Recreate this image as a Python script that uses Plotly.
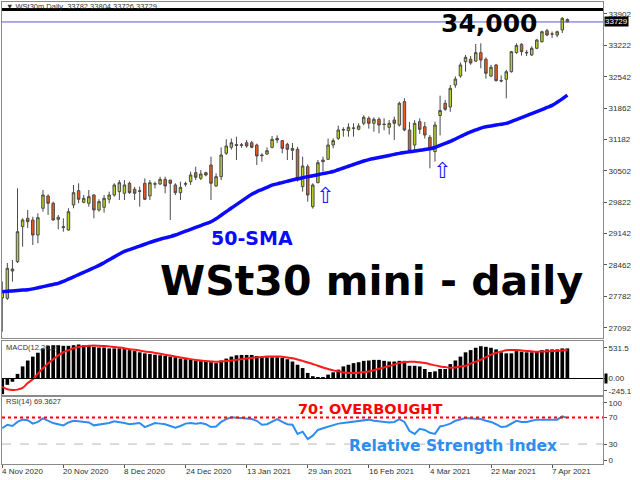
import plotly.graph_objects as go

# ---------------- data ----------------
OPEN = [27742, 27735, 28371, 28529, 29289, 29470, 29434, 29108, 29688, 29954,
        29796, 29449, 29290, 29217, 29759, 30069, 29818, 29796, 29976, 29651,
        29709, 29883, 29976, 30048, 30013, 30230, 30100, 30070, 30230, 29954,
        30210, 30215, 30315, 30300, 30193, 30026, 30210, 30265, 30460, 30338,
        30460, 30627, 30171, 30373, 30881, 31011, 31070, 31065, 31110, 31110,
        31060, 30845, 30865, 31010, 31205, 31155, 31075, 30988, 30967, 30156,
        30590, 29723, 30243, 30735, 30750, 31060, 31205, 31395, 31371, 31430,
        31401, 31531, 31640, 31531, 31618, 31515, 31444, 31603, 31494, 32000,
        31386, 31060, 31567, 31458, 31227, 30916, 31700, 31965, 31885, 32362,
        32557, 32868, 32920, 32880, 33063, 32920, 32557, 32796, 32460, 32486,
        32650, 33063, 33245, 33070, 33013, 33158, 33301, 33540, 33470, 33446,
        33555, 33782]
HIGH = [28100, 28501, 28566, 30121, 29470, 29651, 29505, 29579, 30085, 29990,
        29831, 29542, 29470, 29688, 30193, 30230, 29976, 30085, 29990, 29883,
        29976, 30048, 30230, 30300, 30300, 30265, 30150, 30157, 30338, 30300,
        30265, 30372, 30372, 30300, 30230, 30265, 30265, 30482, 30590, 30518,
        30482, 30807, 30446, 31010, 31184, 31200, 31240, 31104, 31170, 31150,
        31090, 30880, 31010, 31255, 31270, 31170, 31110, 31104, 31020, 30807,
        30640, 30230, 30735, 30807, 31200, 31205, 31480, 31445, 31531, 31531,
        31531, 31705, 31683, 31662, 31660, 31640, 31600, 31675, 32000, 32073,
        31560, 31600, 31640, 31560, 31277, 31567, 32130, 32040, 32362, 32550,
        32850, 33013, 32990, 33251, 33266, 32960, 32800, 32820, 32570, 32690,
        33100, 33266, 33266, 33120, 33200, 33360, 33540, 33580, 33520, 33540,
        33830, 33804]
LOW = [27011, 27700, 28095, 28500, 28855, 29260, 28892, 28929, 29614, 29542,
       29420, 29232, 29180, 29200, 29688, 29796, 29796, 29722, 29470, 29614,
       29592, 29796, 29940, 29866, 29866, 30000, 29866, 29723, 29868, 29866,
       30120, 30193, 30013, 29434, 29976, 29868, 30157, 30193, 30300, 30300,
       30380, 29868, 30157, 30300, 30844, 30960, 30735, 31000, 31000, 30990,
       30627, 30700, 30844, 30988, 31100, 30880, 30735, 30735, 30265, 30048,
       29831, 29680, 30230, 30482, 30735, 30988, 31170, 31240, 31240, 31240,
       31380, 31488, 31415, 31350, 31313, 31380, 31290, 31170, 31460, 31360,
       30900, 30950, 31300, 31200, 30555, 30699, 31270, 31800, 31780, 32300,
       32520, 32650, 32800, 32860, 32724, 32500, 32530, 32440, 32420, 32073,
       32630, 33040, 33000, 32990, 32990, 33140, 33280, 33420, 33380, 33400,
       33490, 33726]
CLOSE = [27879, 28386, 28328, 29180, 29434, 29397, 29108, 29484, 29976, 29796,
         29434, 29493, 29270, 29614, 30026, 29883, 29904, 29940, 29651, 29831,
         29904, 29976, 30193, 30243, 30193, 30026, 30013, 30055, 29883, 30243,
         30220, 30315, 30171, 30229, 30026, 30142, 30220, 30410, 30360, 30432,
         30410, 30230, 30373, 30844, 31039, 31110, 31050, 31055, 31039, 31010,
         30822, 30830, 30937, 31184, 31169, 30988, 30967, 30944, 30300, 30605,
         29976, 30193, 30677, 30699, 31060, 31155, 31386, 31386, 31445, 31423,
         31473, 31662, 31531, 31618, 31494, 31505, 31531, 31531, 31965, 31386,
         30937, 31531, 31401, 31277, 30988, 31494, 31810, 31835, 32290, 32490,
         32796, 32963, 32840, 33063, 32904, 32616, 32746, 32455, 32450, 32650,
         33085, 33220, 33085, 33060, 33158, 33338, 33518, 33446, 33465, 33518,
         33809, 33729]
SMA50 = [27879, 27888, 27896, 27905, 27914, 27922, 27940, 27964, 27988, 28012,
         28036, 28060, 28101, 28151, 28200, 28249, 28298, 28348, 28398, 28448,
         28508, 28571, 28633, 28696, 28752, 28791, 28830, 28868, 28907, 28946,
         28984, 29017, 29045, 29073, 29108, 29149, 29190, 29231, 29272, 29313,
         29354, 29396, 29459, 29537, 29615, 29693, 29768, 29843, 29918, 29993,
         30047, 30094, 30141, 30188, 30218, 30245, 30273, 30300, 30327, 30351,
         30373, 30395, 30417, 30439, 30461, 30485, 30523, 30561, 30599, 30637,
         30675, 30713, 30744, 30767, 30789, 30812, 30834, 30857, 30879, 30896,
         30913, 30929, 30946, 30962, 30979, 31006, 31050, 31093, 31137, 31191,
         31244, 31298, 31344, 31386, 31428, 31456, 31474, 31493, 31511, 31529,
         31569, 31611, 31654, 31696, 31739, 31784, 31829, 31874, 31919, 31987,
         32060, 32140]
MACD_HIST = [-245.1, -99, -51, 72, 189, 281, 342, 403, 470, 511,
             520, 520, 511, 511, 520, 531.5, 520, 511, 495, 485,
             485, 470, 470, 470, 459, 444, 428, 409, 393, 382,
             373, 363, 352, 342, 332, 311, 301, 291, 281, 271,
             271, 255, 240, 281, 311, 342, 363, 368, 368, 368,
             352, 342, 332, 332, 332, 322, 301, 265, 215, 163,
             87, 36, 23, 20, 61, 97, 138, 189, 215, 240,
             255, 276, 281, 291, 291, 276, 265, 265, 276, 276,
             199, 199, 189, 148, 102, 112, 148, 148, 225, 281,
             342, 409, 444, 480, 505, 495, 480, 455, 409, 393,
             393, 428, 419, 409, 409, 428, 444, 455, 455, 455,
             470, 470]
MACD_SIGNAL = [-130, -168, -180, -174, -148, -72, -13, 77, 160, 233,
               301, 361, 410, 442, 474, 492, 506, 511, 516, 511,
               507, 502, 493, 486, 474, 458, 448, 436, 423, 413,
               400, 386, 372, 358, 344, 329, 316, 303, 290, 280,
               273, 267, 261, 266, 273, 281, 291, 302, 314, 322,
               330, 337, 342, 342, 342, 341, 329, 316, 298, 275,
               251, 226, 200, 171, 149, 127, 112, 94, 87, 87,
               90, 100, 111, 129, 152, 171, 195, 219, 244, 257,
               263, 262, 253, 242, 224, 205, 189, 178, 167, 173,
               186, 200, 232, 263, 293, 334, 374, 399, 421, 442,
               444, 444, 438, 431, 424, 419, 421, 425, 428, 433,
               438, 444]
RSI14 = [53.8, 59.0, 57.2, 63.3, 66.7, 65.9, 60.7, 63.3, 68.5, 65.0,
         61.6, 59.8, 58.1, 62.4, 65.0, 64.2, 63.3, 62.4, 58.1, 59.0,
         60.7, 61.6, 64.2, 63.3, 61.6, 59.8, 60.7, 61.6, 55.5, 58.1,
         61.6, 60.7, 59.8, 57.2, 54.7, 57.2, 60.7, 61.6, 60.7, 61.6,
         59.8, 55.5, 56.4, 63.3, 67.6, 70.2, 69.3, 69.3, 68.5, 67.6,
         65.0, 59.0, 59.8, 64.2, 67.6, 63.3, 59.8, 59.0, 45.2, 48.6,
         37.4, 42.6, 51.2, 53.8, 56.4, 59.0, 60.7, 61.6, 62.4, 63.3,
         64.2, 65.0, 66.7, 65.0, 64.2, 63.3, 62.4, 63.3, 67.6, 63.3,
         49.5, 45.2, 52.9, 51.2, 46.9, 45.2, 56.4, 58.1, 60.7, 65.0,
         67.6, 69.3, 68.5, 68.5, 67.6, 65.0, 63.3, 59.8, 55.5, 56.4,
         60.7, 65.0, 63.3, 63.3, 65.0, 66.7, 66.7, 66.7, 65.9, 66.7,
         71.5, 69.36]

DATE_LABELS = ["4 Nov 2020", "20 Nov 2020", "8 Dec 2020", "24 Dec 2020", "13 Jan 2021",
               "29 Jan 2021", "16 Feb 2021", "4 Mar 2021", "22 Mar 2021", "7 Apr 2021"]
LABEL_BARS = [0, 12, 24, 36, 48, 60, 72, 84, 96, 108]
PRICE_TICKS = [27092, 27782, 28462, 29142, 29822, 30502, 31182, 31862, 32542, 33222, 33902]
LEVEL_LINE = 34000
RSI_OVERBOUGHT = 70
RSI_OVERSOLD = 30

BARS = list(range(len(CLOSE)))
LAST_PRICE = CLOSE[-1]

# ---------------- styling ----------------
FRAME = "#8a8a8a"
TICKFONT = dict(family="Liberation Sans, Arial, sans-serif", size=8, color="#303030")
BOLD = "DejaVu Sans, sans-serif"
XR = [-0.05, 118.0]

fig = go.Figure()

fig.add_trace(go.Candlestick(
    x=BARS, open=OPEN, high=HIGH, low=LOW, close=CLOSE,
    increasing=dict(fillcolor="#b8d22a", line=dict(color="#4a4a4a", width=1)),
    decreasing=dict(fillcolor="#ec5a1e", line=dict(color="#4a4a4a", width=1)),
    whiskerwidth=0, xaxis="x", yaxis="y", hoverinfo="skip"))

fig.add_trace(go.Scatter(x=BARS, y=SMA50, mode="lines",
                         line=dict(color="#0a0aff", width=3.5, shape="spline"),
                         xaxis="x", yaxis="y", hoverinfo="skip"))

fig.add_trace(go.Bar(x=BARS, y=MACD_HIST, marker=dict(color="#000000", line=dict(width=0)),
                     xaxis="x2", yaxis="y2", hoverinfo="skip"))
fig.add_trace(go.Scatter(x=BARS, y=MACD_SIGNAL, mode="lines",
                         line=dict(color="#ff1a1a", width=2, shape="spline"),
                         xaxis="x2", yaxis="y2", hoverinfo="skip"))

fig.add_trace(go.Scatter(x=BARS, y=RSI14, mode="lines",
                         line=dict(color="#2b8ef0", width=2),
                         xaxis="x3", yaxis="y3", hoverinfo="skip"))

common_x = dict(range=XR, showgrid=False, zeroline=False, showline=True, mirror=True,
                linecolor=FRAME, linewidth=1, fixedrange=True)
common_y = dict(side="right", showgrid=False, zeroline=False, showline=True, mirror=True,
                linecolor=FRAME, linewidth=1, ticks="outside", ticklen=3, tickcolor="#555",
                tickfont=TICKFONT, fixedrange=True)

fig.update_layout(
    width=640, height=480,
    margin=dict(l=2, r=37, t=2, b=16),
    paper_bgcolor="white", plot_bgcolor="white",
    showlegend=False, bargap=0.28,
    xaxis=dict(domain=[0, 1], anchor="y", showticklabels=False, ticks="",
               rangeslider=dict(visible=False), **common_x),
    xaxis2=dict(domain=[0, 1], anchor="y2", matches="x", showticklabels=False, ticks="", **common_x),
    xaxis3=dict(domain=[0, 1], anchor="y3", matches="x", showticklabels=False,
                tickvals=LABEL_BARS, ticks="outside", ticklen=3, tickcolor="#555", **common_x),
    yaxis=dict(domain=[0.27273, 1], anchor="x", range=[26874, 34162],
               tickvals=PRICE_TICKS, ticktext=[str(v) for v in PRICE_TICKS], **common_y),
    yaxis2=dict(domain=[0.14935, 0.26623], anchor="x2", range=[-258, 586],
                tickvals=[481, 0, -195], ticktext=["531.5", "0.00", "-245.1"], **common_y),
    yaxis3=dict(domain=[0, 0.14394], anchor="x3", range=[0, 100],
                tickvals=[6, 30, 70, 92], ticktext=["0", "30", "70", "100"], **common_y),
)

# reference lines
fig.add_shape(type="line", xref="x domain", yref="y", x0=0, x1=1, y0=LEVEL_LINE, y1=LEVEL_LINE,
              line=dict(color="#000000", width=3))
fig.add_shape(type="line", xref="x domain", yref="y", x0=0, x1=1, y0=LAST_PRICE, y1=LAST_PRICE,
              line=dict(color="#5858c8", width=1))
fig.add_shape(type="line", xref="x2 domain", yref="y2", x0=0, x1=1, y0=0, y1=0,
              line=dict(color="#000000", width=1))
fig.add_shape(type="line", xref="x3 domain", yref="y3", x0=0, x1=1, y0=RSI_OVERBOUGHT, y1=RSI_OVERBOUGHT,
              line=dict(color="#ff0000", width=2, dash="dot"))
fig.add_shape(type="line", xref="x3 domain", yref="y3", x0=0, x1=1, y0=RSI_OVERSOLD, y1=RSI_OVERSOLD,
              line=dict(color="#b8b8b8", width=1, dash="dash"))

ann = []
# date labels
for pos, lbl in zip(LABEL_BARS, DATE_LABELS):
    ann.append(dict(x=pos, xref="x3", y=-0.0032, yref="paper", text=lbl, showarrow=False,
                    xanchor="left", yanchor="top", xshift=-2, font=TICKFONT))
# last price tag
ann.append(dict(x=1, xref="paper", y=LAST_PRICE, yref="y", text="33729", showarrow=False,
                xanchor="left", yanchor="middle", xshift=1, bgcolor="#000000", borderpad=0,
                font=dict(family="Liberation Sans, Arial", size=8, color="white")))
ann.append(dict(x=1, xref="paper", y=0, yref="y2", text=" ", showarrow=False,
                xanchor="left", yanchor="middle", xshift=1, bgcolor="#000000", borderpad=0,
                font=dict(family="Liberation Sans, Arial", size=8, color="white")))
# panel labels
small = dict(family="Liberation Sans, Arial", size=7.5, color="#333333")
ann.append(dict(x=0.004, xref="paper", y=0.9913, yref="paper",
                text="\u25BC WSt30m,Daily  33782 33804 33726 33729", showarrow=False,
                xanchor="left", yanchor="middle", font=small))
ann.append(dict(x=0.004, xref="paper", y=0.2511, yref="paper", text="MACD(12,26,9)",
                showarrow=False, xanchor="left", yanchor="middle", font=small))
ann.append(dict(x=0.004, xref="paper", y=0.1342, yref="paper", text="RSI(14) 69.3627",
                showarrow=False, xanchor="left", yanchor="middle", font=small))
# big labels
ann.append(dict(x=0.8095, xref="paper", y=0.9524, yref="paper", text="<b>34,000</b>",
                showarrow=False, xanchor="center", yanchor="middle",
                font=dict(family=BOLD, size=25, color="#000000")))
ann.append(dict(x=0.4168, xref="paper", y=0.4885, yref="paper", text="<b>50-SMA</b>",
                showarrow=False, xanchor="center", yanchor="middle",
                font=dict(family=BOLD, size=19, color="#0a0aff")))
ann.append(dict(x=0.614, xref="paper", y=0.3961, yref="paper", text="<b>WSt30 mini - daily</b>",
                showarrow=False, xanchor="center", yanchor="middle",
                font=dict(family=BOLD, size=41, color="#000000")))
ann.append(dict(x=0.6123, xref="paper", y=0.1180, yref="paper", text="<b>70: OVERBOUGHT</b>",
                showarrow=False, xanchor="center", yanchor="middle",
                font=dict(family=BOLD, size=14.5, color="#ff0000")))
ann.append(dict(x=0.7512, xref="paper", y=0.0379, yref="paper", text="<b>Relative Strength Index</b>",
                showarrow=False, xanchor="center", yanchor="middle",
                font=dict(family=BOLD, size=15.5, color="#2b8ef0")))
# arrows
for ax_, ay_ in [(0.5374, 0.5801), (0.7321, 0.6342)]:
    ann.append(dict(x=ax_, xref="paper", y=ay_, yref="paper", text="\u21E7", showarrow=False,
                    xanchor="center", yanchor="middle",
                    font=dict(family="DejaVu Sans", size=22, color="#1a1aff")))

fig.update_layout(annotations=ann)
fig.write_html("out.html", config={"displayModeBar": False},
               post_script="document.body.style.margin='0';document.body.style.padding='0';")
